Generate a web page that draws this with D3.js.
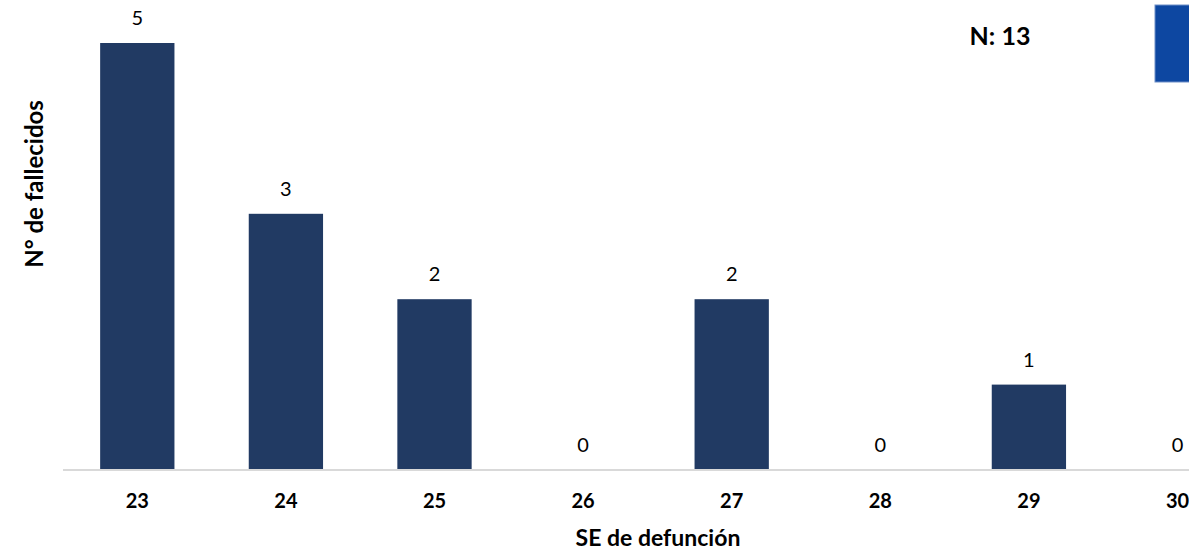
<!DOCTYPE html>
<html>
<head>
<meta charset="utf-8">
<script src="https://cdn.jsdelivr.net/npm/d3@7"></script>
<style>
  body { margin: 0; background: #fff; }
  text { font-family: Lato, "Open Sans", sans-serif; }
</style>
</head>
<body>
<div id="chart"></div>
<script>
const semanas = ["23", "24", "25", "26", "27", "28", "29", "30"];
const fallecidos = [5, 3, 2, 0, 2, 0, 1, 0];
const totalLabel = "N: 13";

const W = 1189, H = 553;
const baseY = 470;

const svg = d3.select("#chart").append("svg")
    .attr("width", W)
    .attr("height", H);

const x = d3.scaleBand()
    .domain(semanas)
    .range([63, 63 + 148.6 * semanas.length])
    .paddingInner(0.5)
    .paddingOuter(0.25);

const y = d3.scaleLinear()
    .domain([0, 5])
    .range([baseY, 43]);

// bars
svg.selectAll("rect.bar")
    .data(semanas)
    .enter().append("rect")
    .attr("class", "bar")
    .attr("x", d => x(d))
    .attr("y", (d, i) => y(fallecidos[i]))
    .attr("width", x.bandwidth())
    .attr("height", (d, i) => baseY - y(fallecidos[i]))
    .attr("fill", "#213a63");

// value labels
svg.selectAll("text.val")
    .data(semanas)
    .enter().append("text")
    .attr("class", "val")
    .attr("x", d => x(d) + x.bandwidth() / 2)
    .attr("y", (d, i) => y(fallecidos[i]) - 18)
    .attr("text-anchor", "middle")
    .style("font-size", "20px")
    .attr("fill", "#000")
    .text((d, i) => fallecidos[i]);

// x axis
const xAxis = svg.append("g")
    .attr("transform", `translate(0,${baseY})`)
    .call(d3.axisBottom(x).tickSize(0));
xAxis.select(".domain").attr("stroke", "#d9d9d9").attr("stroke-width", 2)
    .attr("d", `M63,0H${W}`);
xAxis.selectAll("text")
    .attr("y", 38)
    .attr("dy", 0)
    .style("font-size", "20px")
    .style("font-weight", "bold")
    .style("font-family", "Lato, 'Open Sans', sans-serif")
    .attr("fill", "#000");

// axis titles
svg.append("text")
    .attr("x", 658)
    .attr("y", 546)
    .attr("text-anchor", "middle")
    .style("font-size", "23px")
    .style("font-weight", "bold")
    .text("SE de defunción");

svg.append("text")
    .attr("transform", "translate(43,184) rotate(-90)")
    .attr("text-anchor", "middle")
    .style("font-size", "24px")
    .style("font-weight", "bold")
    .text("N° de fallecidos");

// N label
svg.append("text")
    .attr("x", 1000)
    .attr("y", 45)
    .attr("text-anchor", "middle")
    .style("font-size", "25px")
    .style("font-weight", "bold")
    .text(totalLabel);

// partial legend box at top right
svg.append("rect")
    .attr("x", 1155)
    .attr("y", 5)
    .attr("width", 40)
    .attr("height", 77)
    .attr("fill", "#0d47a1")
    .attr("stroke", "#6f8fc7")
    .attr("stroke-width", 1);
</script>
</body>
</html>
